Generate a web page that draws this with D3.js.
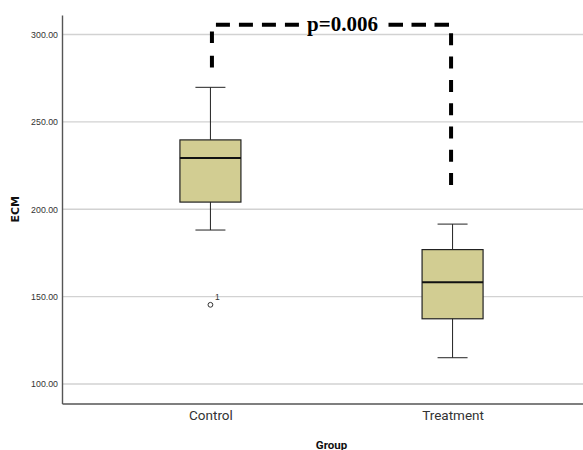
<!DOCTYPE html>
<html>
<head>
<meta charset="UTF-8">
<script src="https://d3js.org/d3.v7.min.js"></script>
<style>
  body { margin: 0; background: #fff; }
  .tick text { fill: #333; }
</style>
</head>
<body>
<svg width="583" height="450"></svg>
<script>
// values
var groups = ["Control", "Treatment"];
var q1 = [204.1, 137.3];
var median = [229.3, 158.2];
var q3 = [239.7, 176.9];
var whiskerLow = [188.1, 115.0];
var whiskerHigh = [269.8, 191.5];
var outliers = [{ group: "Control", value: 145.3, label: "1" }];
var yTicks = [100, 150, 200, 250, 300];
var bracket = { top: 305.6, leftEnd: 281.0, rightEnd: 213.0, text: "p=0.006" };

var svg = d3.select("svg");
var plotLeft = 62, plotRight = 601, plotTop = 15, plotBottom = 403.5;

var x = d3.scalePoint().domain(groups).range([plotLeft, plotRight]).padding(0.613);
var y = d3.scaleLinear().domain([88.8, 311.2]).range([plotBottom, plotTop]);
var boxW = 61, capW = 30;

// grid
svg.append("g").selectAll("line")
  .data(yTicks).enter().append("line")
  .attr("x1", plotLeft).attr("x2", plotRight)
  .attr("y1", function(d) { return y(d); })
  .attr("y2", function(d) { return y(d); })
  .attr("stroke", "#d2d2d2").attr("stroke-width", 1.4);

// y axis
var yAxis = svg.append("g")
  .attr("transform", "translate(" + plotLeft + ",0)")
  .call(d3.axisLeft(y).tickValues(yTicks).tickSize(0).tickPadding(4).tickFormat(d3.format(".2f")));
yAxis.select(".domain").attr("stroke", "#555").attr("stroke-width", 1.4);
yAxis.selectAll("text").attr("font-family", "Liberation Sans, Arial, sans-serif").attr("font-size", "8.8px");

// x axis
var xAxis = svg.append("g")
  .attr("transform", "translate(0," + plotBottom + ")")
  .call(d3.axisBottom(x).tickSize(0).tickPadding(7));
xAxis.select(".domain").attr("stroke", "#555").attr("stroke-width", 1.4);
xAxis.selectAll("text").attr("font-family", "Roboto, sans-serif").attr("font-size", "13.5px").attr("fill", "#222");

// axis titles
svg.append("text")
  .attr("transform", "translate(19," + y(200) + ") rotate(-90)")
  .attr("text-anchor", "middle")
  .attr("font-family", "DejaVu Sans, sans-serif").attr("font-weight", "bold").attr("font-size", "11px")
  .attr("fill", "#111").text("ECM");
svg.append("text")
  .attr("x", (plotLeft + plotRight) / 2).attr("y", 449)
  .attr("text-anchor", "middle")
  .attr("font-family", "Roboto, sans-serif").attr("font-weight", "bold").attr("font-size", "11.5px")
  .attr("fill", "#111").text("Group");

// boxes
var boxes = svg.append("g").selectAll("g")
  .data(groups).enter().append("g");

boxes.append("line")
  .attr("x1", function(d) { return x(d); }).attr("x2", function(d) { return x(d); })
  .attr("y1", function(d, i) { return y(whiskerHigh[i]); })
  .attr("y2", function(d, i) { return y(whiskerLow[i]); })
  .attr("stroke", "#222").attr("stroke-width", 1);
boxes.selectAll(".cap")
  .data(function(d, i) { return [[d, whiskerLow[i]], [d, whiskerHigh[i]]]; })
  .enter().append("line")
  .attr("x1", function(d) { return x(d[0]) - capW / 2; })
  .attr("x2", function(d) { return x(d[0]) + capW / 2; })
  .attr("y1", function(d) { return y(d[1]); })
  .attr("y2", function(d) { return y(d[1]); })
  .attr("stroke", "#222").attr("stroke-width", 1);
boxes.append("rect")
  .attr("x", function(d) { return x(d) - boxW / 2; })
  .attr("width", boxW)
  .attr("y", function(d, i) { return y(q3[i]); })
  .attr("height", function(d, i) { return y(q1[i]) - y(q3[i]); })
  .attr("fill", "#d2cd92").attr("stroke", "#222").attr("stroke-width", 1.2);
boxes.append("line")
  .attr("x1", function(d) { return x(d) - boxW / 2; })
  .attr("x2", function(d) { return x(d) + boxW / 2; })
  .attr("y1", function(d, i) { return y(median[i]); })
  .attr("y2", function(d, i) { return y(median[i]); })
  .attr("stroke", "#111").attr("stroke-width", 2);

// outliers
var out = svg.append("g").selectAll("g").data(outliers).enter().append("g");
out.append("circle")
  .attr("cx", function(d) { return x(d.group); })
  .attr("cy", function(d) { return y(d.value); })
  .attr("r", 2.4).attr("fill", "none").attr("stroke", "#333").attr("stroke-width", 1);
out.append("text")
  .attr("x", function(d) { return x(d.group) + 4.5; })
  .attr("y", function(d) { return y(d.value) - 5; })
  .attr("font-family", "Liberation Sans, Arial, sans-serif").attr("font-size", "8.5px").attr("fill", "#333")
  .text(function(d) { return d.label; });

// significance bracket
var bx1 = x(groups[0]) + 1.5, bx2 = x(groups[1]) - 1.5, by = y(bracket.top);
var tx = (bx1 + bx2) / 2 + 11;
var gapL = tx - 42, gapR = tx + 46;
var br = svg.append("g").attr("stroke", "#000").attr("stroke-width", 4).attr("fill", "none");
br.append("line")
  .attr("x1", bx1).attr("x2", bx1).attr("y1", by).attr("y2", y(bracket.leftEnd))
  .attr("stroke-dasharray", "11.6,12.7").attr("stroke-dashoffset", 17.6);
br.append("line")
  .attr("x1", bx2).attr("x2", bx2).attr("y1", by).attr("y2", y(bracket.rightEnd))
  .attr("stroke-dasharray", "12,11.3").attr("stroke-dashoffset", 14.8);
br.append("line")
  .attr("x1", bx1).attr("x2", gapL).attr("y1", by).attr("y2", by)
  .attr("stroke-dasharray", "14,9").attr("stroke-dashoffset", 19);
br.append("line")
  .attr("x1", gapR).attr("x2", bx2 + 1).attr("y1", by).attr("y2", by)
  .attr("stroke-dasharray", "14.5,8.5");

svg.append("text")
  .attr("x", tx).attr("y", by + 6)
  .attr("text-anchor", "middle")
  .attr("font-family", "Liberation Serif, Times New Roman, serif").attr("font-weight", "bold").attr("font-size", "21px")
  .attr("fill", "#000").text(bracket.text);
</script>
</body>
</html>
